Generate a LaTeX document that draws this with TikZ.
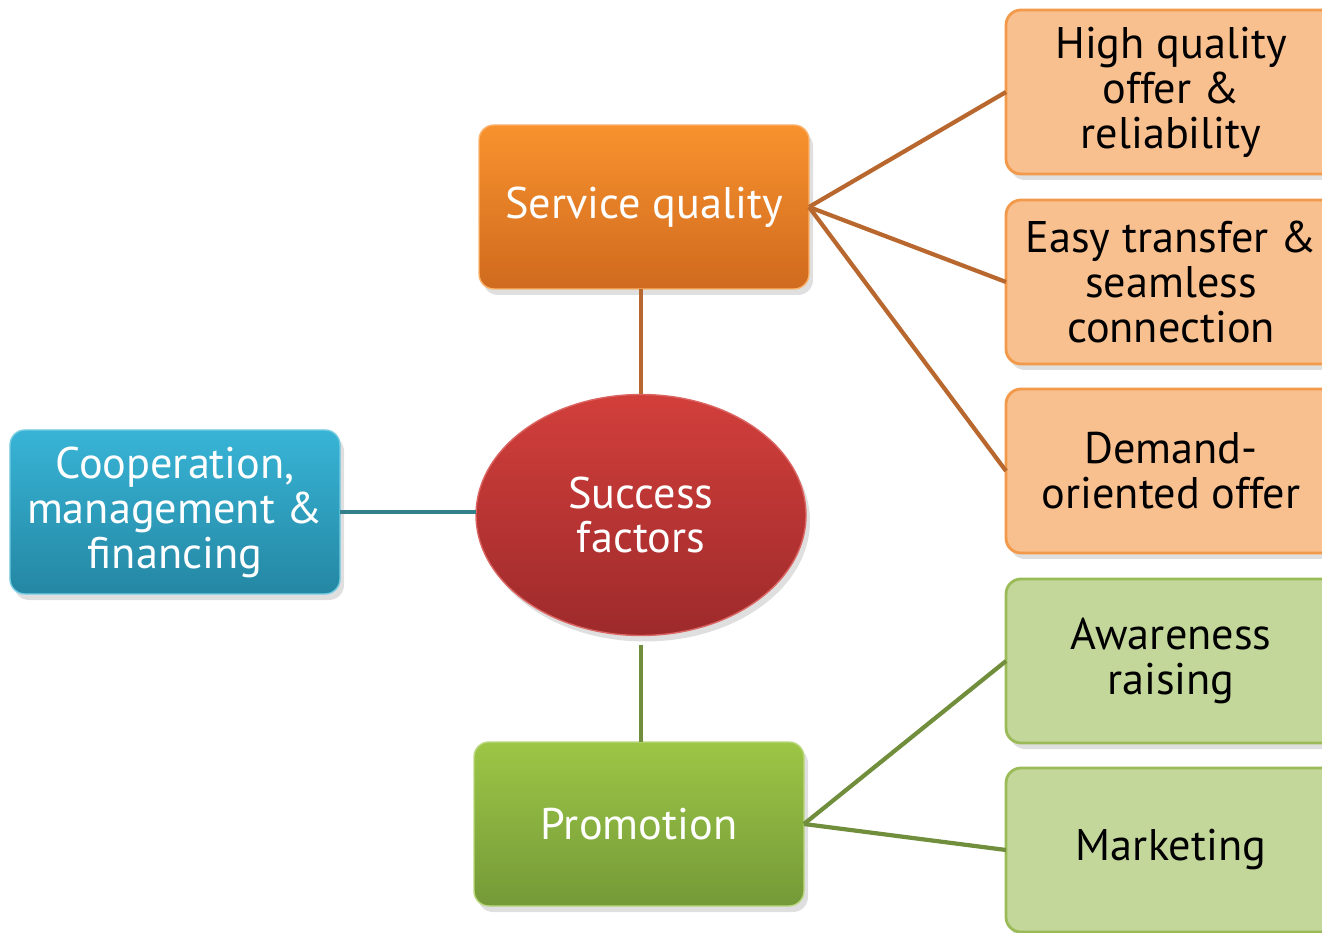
\documentclass[tikz,border=0pt]{standalone}
\usepackage{fontspec}
\setmainfont{PT Sans}
\usetikzlibrary{shapes.geometric,shadows}

\definecolor{orangeTop}{HTML}{F8922E}
\definecolor{orangeBot}{HTML}{D06A1E}
\definecolor{redTop}{HTML}{D23F3B}
\definecolor{redBot}{HTML}{9E2A2B}
\definecolor{blueTop}{HTML}{38B4D6}
\definecolor{blueBot}{HTML}{2487A3}
\definecolor{greenTop}{HTML}{9DC646}
\definecolor{greenBot}{HTML}{749A38}
\definecolor{peachFill}{HTML}{F8C08F}
\definecolor{peachLine}{HTML}{F39A4A}
\definecolor{leafFill}{HTML}{C4D79B}
\definecolor{leafLine}{HTML}{9BBB59}
\definecolor{brownLink}{HTML}{B8682E}
\definecolor{tealLink}{HTML}{31808C}
\definecolor{greenLink}{HTML}{708E3C}

\tikzset{
    txt/.style={font=\fontsize{12.6}{12.8}\selectfont, align=center, inner sep=0pt, outer sep=0pt},
    main/.style={txt, text=white, rounded corners=0.15cm, minimum width=3.3cm, minimum height=1.64cm,
        drop shadow={shadow xshift=0.4mm, shadow yshift=-0.6mm, opacity=0.25}},
    sub/.style={txt, text=black, rounded corners=0.15cm, minimum width=3.3cm, minimum height=1.64cm,
        line width=0.8pt, drop shadow={shadow xshift=0.4mm, shadow yshift=-0.6mm, opacity=0.25}},
    link/.style={line width=1.2pt}
}

\begin{document}
\begin{tikzpicture}
    \clip (0,0) rectangle (13.22,9.32);

    % Centro
    \node[txt, text=white, ellipse, minimum width=3.3cm, minimum height=2.41cm, top color=redTop, bottom color=redBot,
        draw=redTop!80!white, drop shadow={shadow xshift=0.4mm, shadow yshift=-0.6mm, opacity=0.25}] (success) at (6.41,4.17) {Success\\factors};

    % Fattori principali
    \node[main, top color=orangeTop, bottom color=orangeBot, draw=orangeTop!70!white] (service) at (6.44,7.25) {Service quality};
    \node[main, top color=blueTop, bottom color=blueBot, draw=blueTop!70!white] (coop) at (1.75,4.20) {Cooperation,\\management \&\\financing};
    \node[main, top color=greenTop, bottom color=greenBot, draw=greenTop!70!white] (promo) at (6.39,1.08) {Promotion};

    % Sotto-fattori
    \node[sub, fill=peachFill, draw=peachLine] (offer) at (11.71,8.40) {High quality\\offer \&\\reliability};
    \node[sub, fill=peachFill, draw=peachLine] (transfer) at (11.71,6.50) {Easy transfer \&\\seamless\\connection};
    \node[sub, fill=peachFill, draw=peachLine] (demand) at (11.71,4.61) {Demand-\\oriented offer};
    \node[sub, fill=leafFill, draw=leafLine] (aware) at (11.71,2.71) {Awareness\\raising};
    \node[sub, fill=leafFill, draw=leafLine] (market) at (11.71,0.82) {Marketing};

    % Collegamenti
    \draw[link, brownLink] (success.north |- service.south) -- (success.north);
    \draw[link, brownLink] (service.east) -- (offer.west);
    \draw[link, brownLink] (service.east) -- (transfer.west);
    \draw[link, brownLink] (service.east) -- (demand.west);
    \draw[link, tealLink] (coop.east) -- (coop.east -| success.west);
    \draw[link, greenLink, shorten <=0.9mm] (success.south) -- (success.south |- promo.north);
    \draw[link, greenLink] (promo.east) -- (aware.west);
    \draw[link, greenLink] (promo.east) -- (market.west);
\end{tikzpicture}
\end{document}
